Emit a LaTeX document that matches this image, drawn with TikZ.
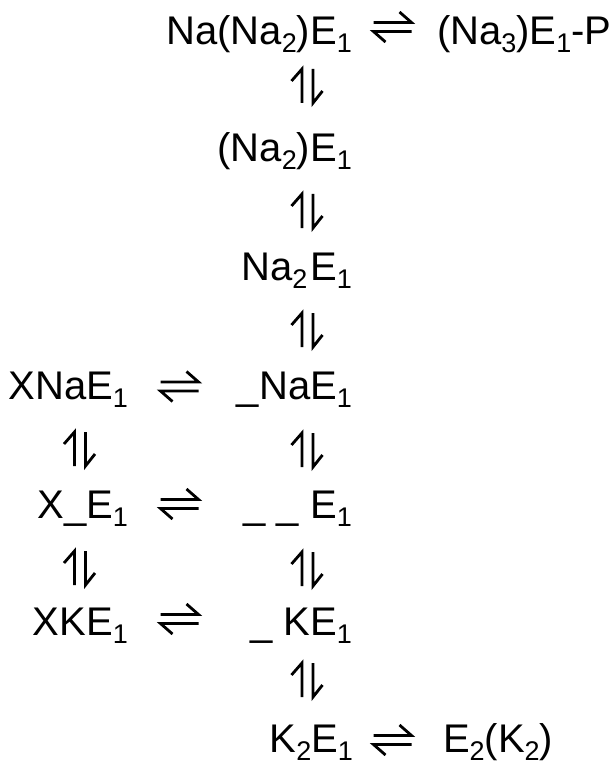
\documentclass[tikz,border=0pt]{standalone}
\usepackage{fontspec}
\setmainfont{Liberation Sans}
\newcommand\sbs[1]{\raisebox{-8pt}{\fontsize{27pt}{27pt}\selectfont #1}}
\tikzset{
  species/.style={inner sep=0pt,outer sep=0pt,font=\fontsize{40pt}{48pt}\selectfont},
  harp/.style={line width=2.8pt,line cap=butt,line join=miter},
  veq/.pic={\draw[harp] (-5.5,17) -- (-5.5,-17) -- (-16,-5);
            \draw[harp] (5.5,-17) -- (5.5,17) -- (15,5);},
  heq/.pic={\draw[harp] (-19,-4.5) -- (19,-4.5) -- (7,-15);
            \draw[harp] (19,4.5) -- (-19,4.5) -- (-7,15);}
}
\begin{document}
\begin{tikzpicture}[x=1pt,y=-1pt]
\useasboundingbox (0,0) rectangle (614,767);
% main column (right aligned)
\node[species,anchor=base east] (a1) at (352,45) {Na(Na\sbs{2})E\sbs{1}};
\node[species,anchor=base west] (b1) at (437,45) {(Na\sbs{3})E\sbs{1}-P};
\node[species,anchor=base east] (a2) at (352,162) {(Na\sbs{2})E\sbs{1}};
\node[species,anchor=base east] (a3) at (352,280) {Na\sbs{2}\kern3pt E\sbs{1}};
\node[species,anchor=base east] (a4) at (352,399) {\_NaE\sbs{1}};
\node[species,anchor=base east] (a5) at (352,518) {\_ \_ E\sbs{1}};
\node[species,anchor=base east] (a6) at (352,635) {\_ KE\sbs{1}};
\node[species,anchor=base east] (a7) at (353,752) {K\sbs{2}E\sbs{1}};
\node[species,anchor=base west] (b7) at (443,752) {E\sbs{2}(K\sbs{2})};
% left column
\node[species,anchor=base east] (l4) at (128,399) {XNaE\sbs{1}};
\node[species,anchor=base east] (l5) at (128,518) {X\_E\sbs{1}};
\node[species,anchor=base east] (l6) at (128,635) {XKE\sbs{1}};
% horizontal equilibria
\pic at (392.5,27) {heq};
\pic at (179.5,386.5) {heq};
\pic at (179.5,504) {heq};
\pic at (179.5,619) {heq};
\pic at (392.5,740) {heq};
% vertical equilibria
\pic at (307.5,86) {veq};
\pic at (307.5,211) {veq};
\pic at (307.5,330) {veq};
\pic at (307.5,450) {veq};
\pic at (307.5,569) {veq};
\pic at (307.5,680) {veq};
\pic at (80,449) {veq};
\pic at (80,568) {veq};
\end{tikzpicture}
\end{document}
